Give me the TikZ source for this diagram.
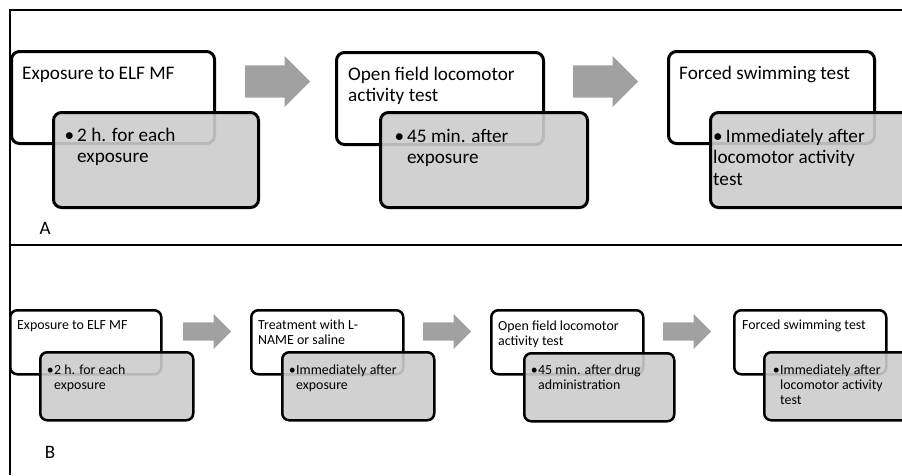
\documentclass[tikz,border=0pt]{standalone}
\usepackage{fontspec}
\setmainfont{Carlito}
\usetikzlibrary{shapes.arrows}

\definecolor{boxgray}{gray}{0.80}
\definecolor{arrowgray}{gray}{0.63}

\newcommand{\blines}[1]{\begin{tabular}[t]{@{}l@{}}#1\end{tabular}}
\newcommand{\bitem}[2]{\llap{\textbullet\hspace{#1}}\blines{#2}}

\tikzset{
  stagebox/.style={draw, line width=3pt, rounded corners=8pt, fill=white, anchor=north west, inner sep=0pt},
  notebox/.style={stagebox, fill=boxgray, fill opacity=0.9},
  smallbox/.style={line width=2.5pt, rounded corners=7pt},
  bigtext/.style={font=\fontsize{19.2}{21.5}\selectfont, anchor=base west, inner sep=0pt},
  smalltext/.style={font=\fontsize{13.9}{15}\selectfont, anchor=base west, inner sep=0pt},
  flowarrow/.style={single arrow, fill=arrowgray, draw=none, inner xsep=0pt, anchor=tail, single arrow tip angle=90},
  bigarrow/.style={flowarrow, minimum height=65pt, inner ysep=16pt, single arrow head extend=9.5pt},
  smallarrow/.style={flowarrow, minimum height=48pt, inner ysep=9pt, single arrow head extend=8.5pt},
}

\begin{document}
\begin{tikzpicture}[x=1pt,y=-1pt]
\clip (0,0) rectangle (902,475);
% frame of the two panels
\draw[line width=2pt] (902,10) -- (10,10) -- (10,475);
\draw[line width=2pt] (10,245) -- (902,245);

% panel A
\node[stagebox, minimum width=203pt, minimum height=92pt] (a1) at (10,50) {};
\node[notebox, minimum width=205pt, minimum height=95pt] (a1n) at (52,111) {};
\node[bigtext] (a1t) at (22,79) {Exposure to ELF MF};
\node[bigtext] (a1b) at (77,141) {\bitem{3pt}{2 h. for each\\exposure}};

\node[stagebox, minimum width=207pt, minimum height=92pt] (a2) at (335,51) {};
\node[notebox, minimum width=207pt, minimum height=95pt] (a2n) at (379,111) {};
\node[bigtext] (a2t) at (348,80) {\blines{Open field locomotor\\activity test}};
\node[bigtext] (a2b) at (407,142) {\bitem{3pt}{45 min. after\\exposure}};

\node[stagebox, minimum width=206pt, minimum height=92pt] (a3) at (667,50) {};
\node[notebox, minimum width=206pt, minimum height=95pt] (a3n) at (709,111) {};
\node[bigtext] (a3t) at (679,79) {Forced swimming test};
\node[bigtext] (a3b) at (713,142) {\blines{\textbullet\,Immediately after\\locomotor activity\\test}};

\node[bigarrow] (a12) at (245,81.5) {};
\node[bigarrow] (a23) at (573,81.5) {};

\node[font=\fontsize{19}{19}\selectfont, inner sep=0pt] (pa) at (45,228) {A};

% panel B
\node[stagebox, smallbox, minimum width=151pt, minimum height=64pt] (b1) at (9,309) {};
\node[notebox, smallbox, minimum width=153pt, minimum height=68pt] (b1n) at (39,351) {};
\node[smalltext] (b1t) at (17,329) {Exposure to ELF MF};
\node[smalltext] (b1b) at (54,374) {\bitem{0.5pt}{2 h. for each\\exposure}};

\node[stagebox, smallbox, minimum width=152pt, minimum height=64pt] (b2) at (250,309) {};
\node[notebox, smallbox, minimum width=152pt, minimum height=68pt] (b2n) at (281,351) {};
\node[smalltext] (b2t) at (258,329) {\blines{Treatment with L-\\NAME or saline}};
\node[smalltext] (b2b) at (296,374) {\bitem{0.5pt}{Immediately after\\exposure}};

\node[stagebox, smallbox, minimum width=152pt, minimum height=64pt] (b3) at (490,309) {};
\node[notebox, smallbox, minimum width=150pt, minimum height=68pt] (b3n) at (523,352) {};
\node[smalltext] (b3t) at (498,330) {\blines{Open field locomotor\\activity test}};
\node[smalltext] (b3b) at (538,374) {\bitem{0.5pt}{45 min. after drug\\administration}};

\node[stagebox, smallbox, minimum width=152pt, minimum height=64pt] (b4) at (733,309) {};
\node[notebox, smallbox, minimum width=152pt, minimum height=68pt] (b4n) at (763,351) {};
\node[smalltext] (b4t) at (742,329) {Forced swimming test};
\node[smalltext] (b4b) at (780,374) {\bitem{0.5pt}{Immediately after\\locomotor activity\\test}};

\node[smallarrow] (b12) at (183,331.5) {};
\node[smallarrow] (b23) at (423,331.5) {};
\node[smallarrow] (b34) at (663,331.5) {};

\node[font=\fontsize{19}{19}\selectfont, inner sep=0pt] (pb) at (50,452) {B};
\end{tikzpicture}
\end{document}
